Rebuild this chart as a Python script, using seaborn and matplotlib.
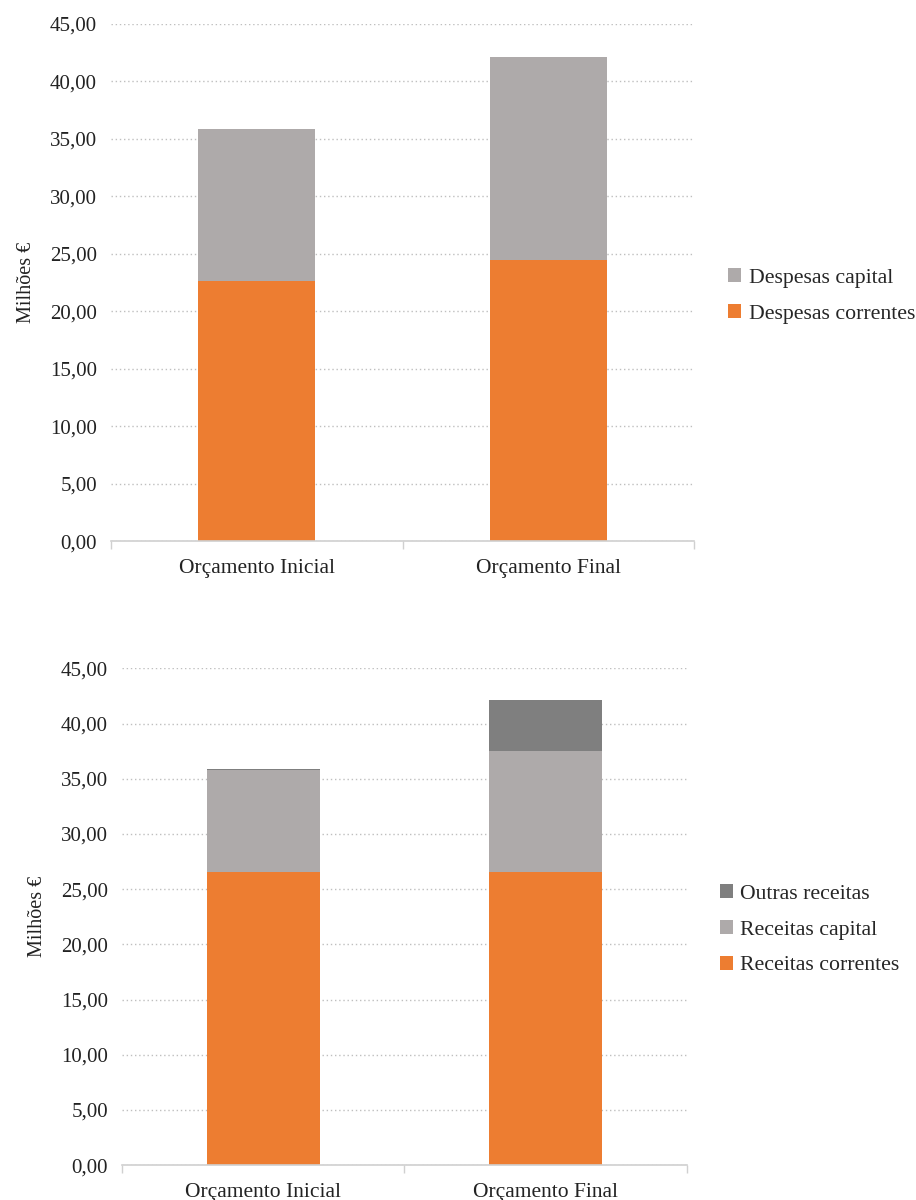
import numpy as np
import pandas as pd
import matplotlib
matplotlib.use("Agg")
import matplotlib.pyplot as plt
from matplotlib.patches import Patch
import seaborn as sns

# Budget phases
categorias = ["Orçamento Inicial", "Orçamento Final"]

# Expenditure (millions of euros)
despesas_correntes = [22.65, 24.48]
despesas_capital = [13.21, 17.67]

# Revenue (millions of euros)
receitas_correntes = [26.57, 26.57]
receitas_capital = [9.24, 10.98]
outras_receitas = [0.05, 4.60]

yticks = [0, 5, 10, 15, 20, 25, 30, 35, 40, 45]

LARANJA = "#ED7D31"
CINZA = "#AEAAAA"
CINZA_ESCURO = "#7F7F7F"

sns.set_theme(style="white")
plt.rcParams["font.family"] = ["Liberation Serif", "DejaVu Serif"]
FS_TICK = 15
FS_CAT = 15.5
FS_LEG = 15.7


def stacked(ax, series, names, colors):
    # cumulative heights, drawn from the tallest layer down
    cum = np.cumsum(np.array(series, dtype=float), axis=0)
    for level in range(len(series) - 1, -1, -1):
        df = pd.DataFrame({"cat": categorias, "val": cum[level]})
        sns.barplot(data=df, x="cat", y="val", ax=ax, color=colors[level],
                    width=0.4, saturation=1, edgecolor="none", linewidth=0)
    ax.set_xlim(-0.5, 1.5)
    ax.set_ylim(0, 45)
    ax.set_yticks(yticks)
    ax.set_yticklabels([f"{v:.2f}".replace(".", ",") for v in yticks], fontsize=FS_TICK)
    ax.tick_params(axis="y", length=0, pad=10, colors="#222222")
    ax.set_xticks(range(len(categorias)))
    ax.set_xticklabels(categorias, fontsize=FS_CAT, color="#222222")
    ax.tick_params(axis="x", which="major", length=0, pad=13)
    ax.set_xticks([-0.5, 0.5, 1.5], minor=True)
    ax.tick_params(axis="x", which="minor", length=6, width=1, color="#D0D0D0",
                   direction="out", bottom=True)
    ax.set_xlabel("")
    ax.set_ylabel("Milhões €", fontsize=FS_TICK - 0.5, color="#222222", labelpad=10)
    ax.yaxis.grid(True, linestyle=(0, (1, 2)), color="#BFBFBF", linewidth=1)
    ax.set_axisbelow(True)
    for s in ["top", "right", "left"]:
        ax.spines[s].set_visible(False)
    ax.spines["bottom"].set_color("#D0D0D0")
    ax.spines["bottom"].set_linewidth(1.2)
    handles = [Patch(facecolor=colors[i], edgecolor="none", label=names[i])
               for i in range(len(names) - 1, -1, -1)]
    ax.legend(handles=handles, loc="center left", bbox_to_anchor=(1.058, 0.474),
              frameon=False, fontsize=FS_LEG, handlelength=0.6, handleheight=0.6,
              handletextpad=0.35, labelspacing=0.75, borderaxespad=0, borderpad=0)


fig = plt.figure(figsize=(9.16, 12), dpi=100)
ax1 = fig.add_axes([0.121, 0.549, 0.637, 0.431])
ax2 = fig.add_axes([0.133, 0.029, 0.617, 0.414])

stacked(ax1, [despesas_correntes, despesas_capital],
        ["Despesas correntes", "Despesas capital"], [LARANJA, CINZA])
stacked(ax2, [receitas_correntes, receitas_capital, outras_receitas],
        ["Receitas correntes", "Receitas capital", "Outras receitas"],
        [LARANJA, CINZA, CINZA_ESCURO])

fig.savefig("out.png", dpi=100, facecolor="white")
